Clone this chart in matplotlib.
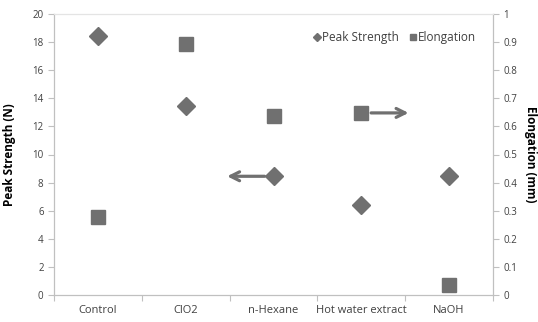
import numpy as np
import matplotlib.pyplot as plt

plt.rcParams["font.family"] = ["Open Sans", "DejaVu Sans"]
plt.rcParams["font.size"] = 8

categories = ["Control", "ClO2", "n-Hexane", "Hot water extract", "NaOH"]
peak_strength = [18.45, 13.45, 8.45, 6.4, 8.45]
elongation = [0.277, 0.895, 0.637, 0.648, 0.036]

# arrows: (x_from, x_to, value)
arrow_left = (1.93, 1.44, 8.45)
arrow_right = (3.08, 3.57, 0.648)

grey = "#707070"
txt = "#404040"
spine = "#c0c0c0"

def main():
    fig = plt.figure(figsize=(5.38, 3.22), dpi=100)
    ax = fig.add_axes([54 / 538, 27 / 322, (493 - 54) / 538, (295 - 14) / 322])
    ax2 = ax.twinx()
    x = np.arange(len(categories))

    l1, = ax.plot(x, peak_strength, ls="none", marker="D", ms=9.5, color=grey, label="Peak Strength")
    l2, = ax2.plot(x, elongation, ls="none", marker="s", ms=10, color=grey, label="Elongation")

    ax.set_xlim(-0.5, len(categories) - 0.5)
    ax.set_ylim(0, 20)
    ax.set_yticks(np.arange(0, 21, 2))
    ax2.set_ylim(0, 1)
    ax2.set_yticks(np.arange(0, 1.01, 0.1))
    ax2.set_yticklabels(["0"] + ["%.1f" % v for v in np.arange(0.1, 1.0, 0.1)] + ["1"])
    ax.set_xticks(np.arange(-0.5, len(categories), 1), minor=False)
    ax.set_xticklabels([])
    ax.set_xticks(x, minor=True)
    ax.set_xticklabels(categories, minor=True)
    ax.tick_params(axis="x", which="minor", length=0, pad=7, colors=txt, labelsize=8)
    ax.tick_params(axis="x", which="major", length=4, direction="out", color=spine)
    ax.tick_params(axis="y", length=4, direction="out", color=spine, colors=txt, labelsize=7)
    ax2.tick_params(axis="y", length=4, direction="out", color=spine, colors=txt, labelsize=7)
    for a in (ax, ax2):
        for s in a.spines.values():
            s.set_color(spine)
            s.set_linewidth(0.8)
    ax.spines["top"].set_color("#e4e4e4")
    ax2.spines["top"].set_color("#e4e4e4")

    ax.set_ylabel("Peak Strength (N)", fontweight="bold", fontsize=8.5, color="black", labelpad=12)
    ax2.set_ylabel("Elongation (mm)", fontweight="bold", fontsize=8.5, color="black", rotation=-90, labelpad=14)

    ap = dict(arrowstyle="->,head_length=0.8,head_width=0.4", color=grey, lw=2.3)
    ax.annotate("", xy=(arrow_left[1], arrow_left[2]), xytext=(arrow_left[0], arrow_left[2]), arrowprops=ap)
    ax2.annotate("", xy=(arrow_right[1], arrow_right[2]), xytext=(arrow_right[0], arrow_right[2]), arrowprops=ap)

    leg = ax2.legend([l1, l2], ["Peak Strength", "Elongation"], ncol=2, frameon=False,
                     loc="center right", bbox_to_anchor=(0.962, 0.915), fontsize=8.5,
                     borderaxespad=0, borderpad=0,
                     handletextpad=0.1, columnspacing=0.8, markerscale=0.4, handlelength=0.7)
    for t in leg.get_texts():
        t.set_color(txt)

    fig.savefig("out.png", dpi=100)
    plt.close()
    return 0

main()
